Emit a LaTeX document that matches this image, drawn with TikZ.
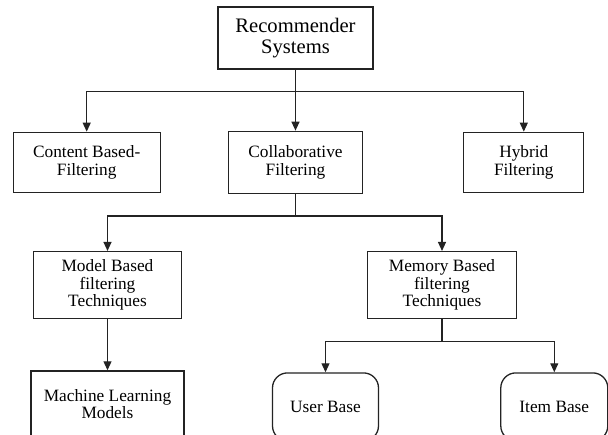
\documentclass[tikz,border=0pt]{standalone}
\usepackage{fontspec}
\setmainfont{Liberation Serif}
\usepackage{tikz}
\usetikzlibrary{arrows.meta, positioning}
\definecolor{boxgray}{RGB}{35, 35, 35}

\begin{document}
\begin{tikzpicture}[
    x=1pt, y=1pt,
    base/.style={rectangle, draw=boxgray, line width=1.3pt, align=center, inner sep=0pt, font=\fontsize{17.3}{17.5}\selectfont},
    root/.style={base, minimum width=155pt, minimum height=62pt, font=\fontsize{20.6}{21.7}\selectfont},
    category/.style={base, minimum height=60pt},
    technique/.style={base, minimum width=148pt, minimum height=67pt},
    leaf/.style={base, rounded corners=15pt, minimum width=106pt, minimum height=68pt},
    line/.style={draw=boxgray, line width=1.2pt, -{Triangle[width=8pt, length=9pt]}}
]
\useasboundingbox (0,0) rectangle (608,-434);

\node[root] (recsys) at (295.5,-38) {Recommender\\Systems};

\node[category, minimum width=134pt, minimum height=62pt, below=61pt of recsys] (collab) {Collaborative\\Filtering};
\node[category, minimum width=147pt, left=67pt of collab] (content) {Content Based-\\Filtering};
\node[category, minimum width=120pt, right=100pt of collab] (hybrid) {Hybrid\\Filtering};

\coordinate[below=21.7pt of recsys] (split1);
\draw[line] (recsys) -- (split1) -| (content);
\draw[line] (split1) -- (collab);
\draw[line] (split1) -| (hybrid);

\node[technique, below=57pt of collab, xshift=-188pt] (model) {Model Based\\filtering\\Techniques};
\node[technique, minimum width=149pt, below=57pt of collab, xshift=146.5pt] (memory) {Memory Based\\filtering\\Techniques};
\node[technique, minimum width=153pt, minimum height=66pt, below=51pt of model] (ml) {Machine Learning\\Models};

\coordinate[below=22pt of collab] (split2);
\draw[line] (collab) -- (split2) -| (model);
\draw[line] (split2) -| (memory);
\draw[line] (model) -- (ml);

\node[leaf, below=53pt of memory, xshift=-116.5pt] (user) {User Base};
\node[leaf, minimum width=107pt, right=121pt of user] (item) {Item Base};

\coordinate[below=22pt of memory] (split3);
\draw[line] (memory) -- (split3) -| (user);
\draw[line] (split3) -| (item);

\end{tikzpicture}
\end{document}
